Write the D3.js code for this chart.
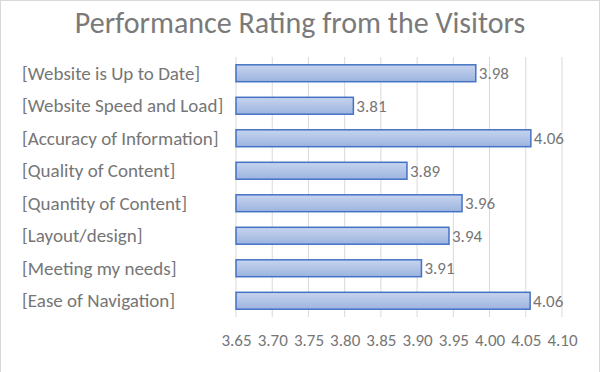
<!DOCTYPE html>
<html>
<head>
<meta charset="utf-8">
<script src="https://cdn.jsdelivr.net/npm/d3@7"></script>
<style>
  body { margin: 0; background: #fff; }
  text { font-family: Carlito, Calibri, Lato, sans-serif; }
</style>
</head>
<body>
<div id="chart"></div>
<script>
const categories = [
  "[Website is Up to Date]",
  "[Website Speed and Load]",
  "[Accuracy of Information]",
  "[Quality of Content]",
  "[Quantity of Content]",
  "[Layout/design]",
  "[Meeting my needs]",
  "[Ease of Navigation]"
];
const ratings = [3.981, 3.812, 4.057, 3.886, 3.962, 3.944, 3.906, 4.056];
const xTicks = [3.65, 3.70, 3.75, 3.80, 3.85, 3.90, 3.95, 4.00, 4.05, 4.10];
const title = "Performance Rating from the Visitors";

const width = 600, height = 372;
const grey = "#767676";

const svg = d3.select("#chart").append("svg")
  .attr("width", width)
  .attr("height", height);

// sfondo e bordo
svg.append("rect")
  .attr("x", 0.5).attr("y", 0.5)
  .attr("width", width - 1).attr("height", height + 5)
  .attr("fill", "#fff")
  .attr("stroke", "#d9d9d9");

const defs = svg.append("defs");
const grad = defs.append("linearGradient")
  .attr("id", "barGrad")
  .attr("x1", 0).attr("y1", 0).attr("x2", 0).attr("y2", 1);
grad.append("stop").attr("offset", "0%").attr("stop-color", "#c6d4ee");
grad.append("stop").attr("offset", "100%").attr("stop-color", "#9db4df");

const x = d3.scaleLinear().domain([3.65, 4.10]).range([236, 562]);
const y = d3.scaleBand().domain(categories).range([57, 317]).paddingInner(0.48).paddingOuter(0.24);

// titolo
svg.append("text")
  .attr("x", width / 2)
  .attr("y", 33)
  .attr("text-anchor", "middle")
  .attr("fill", "#7a7a7a")
  .attr("font-size", 30)
  .text(title);

// griglia verticale
svg.append("g")
  .selectAll("line")
  .data(xTicks)
  .join("line")
  .attr("x1", d => x(d)).attr("x2", d => x(d))
  .attr("y1", 57).attr("y2", 317)
  .attr("stroke", "#d9d9d9")
  .attr("stroke-width", 1);

// asse x
const xAxis = svg.append("g")
  .attr("transform", "translate(0,317)")
  .call(d3.axisBottom(x).tickValues(xTicks).tickFormat(d3.format(".2f")).tickSize(0).tickPadding(17));
xAxis.select(".domain").remove();
xAxis.selectAll("text")
  .attr("fill", grey)
  .attr("font-size", 17)
  .style("font-family", "Carlito, Calibri, Lato, sans-serif");

// etichette categorie
svg.append("g")
  .selectAll("text")
  .data(categories)
  .join("text")
  .attr("x", 22)
  .attr("y", d => y(d) + y.bandwidth() / 2)
  .attr("dy", "0.35em")
  .attr("fill", grey)
  .attr("font-size", 19)
  .text(d => d);

// barre
svg.append("g")
  .selectAll("rect")
  .data(ratings)
  .join("rect")
  .attr("x", x(3.65))
  .attr("y", (d, i) => y(categories[i]))
  .attr("width", d => x(d) - x(3.65))
  .attr("height", y.bandwidth())
  .attr("fill", "url(#barGrad)")
  .attr("stroke", "#4472c4")
  .attr("stroke-width", 1.5);

// etichette valori
svg.append("g")
  .selectAll("text")
  .data(ratings)
  .join("text")
  .attr("x", d => x(d) + 3)
  .attr("y", (d, i) => y(categories[i]) + y.bandwidth() / 2)
  .attr("dy", "0.35em")
  .attr("fill", grey)
  .attr("font-size", 17)
  .text(d => d.toFixed(2));
</script>
</body>
</html>
